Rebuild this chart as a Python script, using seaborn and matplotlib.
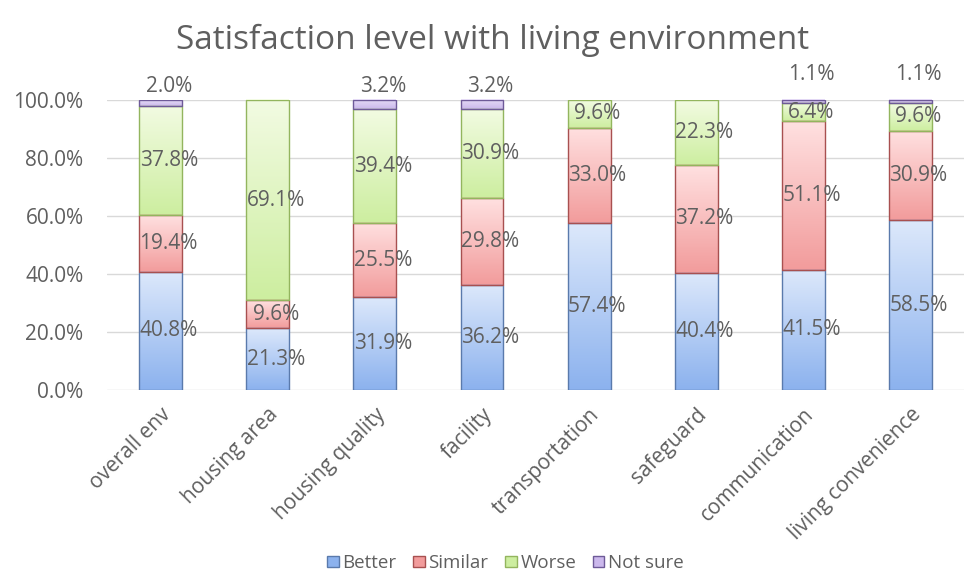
import matplotlib
matplotlib.use('Agg')
import matplotlib.pyplot as plt
import numpy as np
import seaborn as sns
from matplotlib.colors import LinearSegmentedColormap
from matplotlib.patches import Patch

categories = ['overall env', 'housing area', 'housing quality', 'facility',
              'transportation', 'safeguard', 'communication', 'living convenience']
better = [40.8, 21.3, 31.9, 36.2, 57.4, 40.4, 41.5, 58.5]
similar = [19.4, 9.6, 25.5, 29.8, 33.0, 37.2, 51.1, 30.9]
worse = [37.8, 69.1, 39.4, 30.9, 9.6, 22.3, 6.4, 9.6]
not_sure = [2.0, 0.0, 3.2, 3.2, 0.0, 0.0, 1.1, 1.1]

series = [
    ('Better', better, '#dce8fb', '#8cb2ee', '#5a7aac'),
    ('Similar', similar, '#ffe0e0', '#f29c9c', '#a85050'),
    ('Worse', worse, '#f2fbe2', '#cdeea0', '#93b55e'),
    ('Not sure', not_sure, '#e6dcf6', '#cbb8ec', '#6e5a98'),
]

TEXT = '#5f5f5f'
sns.set_style('white')
plt.rcParams['font.family'] = ['Open Sans', 'DejaVu Sans']

fig = plt.figure(figsize=(9.65, 5.77), dpi=100)
ax = fig.add_axes([0.111, 0.324, 0.888, 0.503])

bottom = np.zeros(len(categories))
label_items = []
for name, vals, top_c, bot_c, edge_c in series:
    vals = np.array(vals) / 100.0
    n_before = len(ax.patches)
    sns.barplot(x=categories, y=vals, bottom=bottom, color=top_c, width=0.4,
                edgecolor=edge_c, linewidth=1.0, order=categories, ax=ax, zorder=3)
    cmap = LinearSegmentedColormap.from_list(name, [bot_c, top_c])
    grad = np.linspace(0, 1, 64).reshape(-1, 1)
    for p, v, b in zip(ax.patches[n_before:], vals, bottom):
        if v <= 0:
            p.set_visible(False)
            continue
        x0, w = p.get_x(), p.get_width()
        y0, h = p.get_y(), p.get_height()
        p.set_facecolor('none')
        ax.imshow(grad, extent=(x0, x0 + w, y0, y0 + h), origin='lower',
                  cmap=cmap, aspect='auto', zorder=2, interpolation='bilinear')
        label_items.append((name, x0 + w / 2, b, v))
    bottom = bottom + vals

for name, xc, b, v in label_items:
    if name == 'Not sure':
        y = b + v + (0.085 if v < 0.015 else 0.045)
    else:
        y = b + v / 2
    ax.text(xc + 0.075, y, f'{v * 100:.1f}%', ha='center', va='center',
            fontsize=15, color=TEXT, zorder=4)

ax.set_xlim(-0.5, len(categories) - 0.5)
ax.set_ylim(0, 1.0)
ax.set_yticks(np.arange(0, 1.01, 0.2))
ax.set_yticklabels([f'{t * 100:.1f}%' for t in np.arange(0, 1.01, 0.2)],
                   fontsize=15, color=TEXT)
ax.yaxis.grid(True, color='#d9d9d9', linewidth=1.0, zorder=0)
ax.set_axisbelow(True)
for s in ax.spines.values():
    s.set_visible(False)
ax.tick_params(axis='y', length=0, pad=17)
ax.tick_params(axis='x', length=0, pad=10)
ax.set_xticks(range(len(categories)))
ax.set_xticklabels(categories, rotation=45, ha='right', rotation_mode='anchor',
                   fontsize=15, color=TEXT)
ax.set_xlabel('')
ax.set_ylabel('')
for im in ax.images:
    im.set_clip_on(False)
for t in ax.texts:
    t.set_clip_on(False)

fig.text(0.51, 0.93, 'Satisfaction level with living environment', ha='center',
         va='center', fontsize=24, color=TEXT)

handles = [Patch(facecolor=bot_c, edgecolor=edge_c, label=name)
           for name, _, top_c, bot_c, edge_c in series]
fig.legend(handles=handles, loc='center', bbox_to_anchor=(0.524, 0.024), ncol=4,
           frameon=False, fontsize=13.5, handlelength=0.6, handleheight=0.6,
           handletextpad=0.2, columnspacing=0.9, labelcolor=TEXT)

fig.savefig('out.png', dpi=100)
